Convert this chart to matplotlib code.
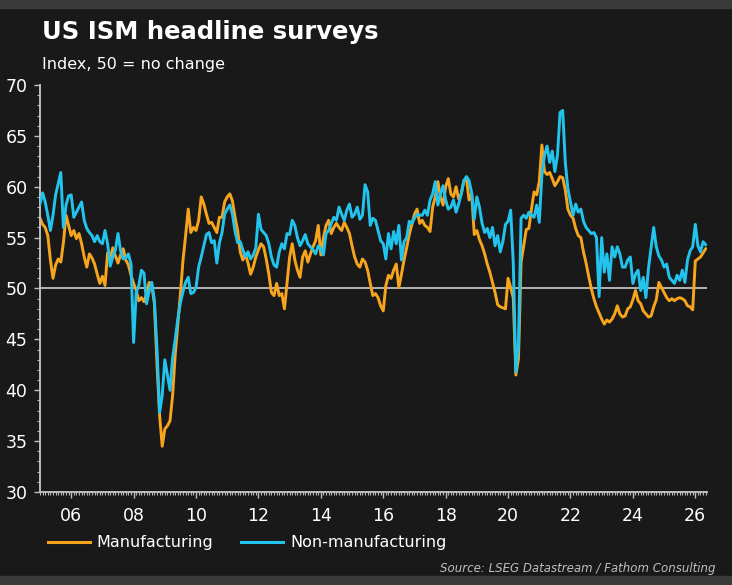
import numpy as np
import matplotlib
matplotlib.use("Agg")
import matplotlib.pyplot as plt
from matplotlib.lines import Line2D
from matplotlib.patches import Rectangle
from matplotlib.ticker import MultipleLocator

# ================= data (monthly, Jan 2005 onwards) =================
START_YEAR = 2005

manufacturing = [
    56.9, 56.3, 56.0, 55.2, 52.8, 51.0, 52.3, 52.9, 52.6, 54.5, 57.2, 56.2,  # 2005
    55.2, 55.7, 54.9, 55.4, 54.4, 53.1, 52.1, 53.4, 53.0, 52.4, 51.4, 50.5,  # 2006
    51.2, 50.3, 53.5, 53.0, 54.0, 53.2, 52.5, 53.3, 53.9, 52.8, 52.3, 51.3,  # 2007
    50.5, 49.8, 48.8, 49.1, 48.7, 49.5, 50.6, 50.3, 48.5, 42.5, 37.5, 34.5,  # 2008
    36.2, 36.5, 37.0, 39.5, 43.5, 46.5, 49.5, 52.8, 55.2, 57.8, 55.5, 56.0,  # 2009
    55.7, 56.7, 59.0, 58.3, 57.3, 56.4, 56.5, 56.0, 55.5, 57.0, 57.0, 58.5,  # 2010
    59.0, 59.3, 58.6, 57.0, 55.7, 53.6, 52.8, 53.4, 52.5, 51.4, 52.1, 53.1,  # 2011
    53.8, 54.4, 54.1, 52.9, 51.4, 49.6, 49.3, 50.5, 49.3, 49.5, 48.0, 50.6,  # 2012
    53.1, 54.4, 52.8, 51.8, 51.1, 53.1, 53.7, 52.6, 53.4, 54.1, 54.7, 56.2,  # 2013
    53.3, 55.0, 56.2, 56.7, 55.4, 56.0, 56.4, 56.0, 55.7, 56.5, 56.0, 55.4,  # 2014
    54.2, 53.1, 52.4, 52.1, 52.9, 52.6, 51.8, 50.5, 49.3, 49.5, 49.1, 48.3,  # 2015
    47.8, 50.3, 51.3, 51.0, 51.8, 52.4, 50.1, 51.4, 52.8, 54.0, 55.3, 56.3,  # 2016
    57.3, 57.8, 56.4, 56.7, 56.2, 56.0, 55.6, 58.0, 59.0, 60.5, 59.0, 58.2,  # 2017
    60.0, 60.8, 59.3, 59.0, 60.0, 58.8, 59.3, 60.6, 60.8, 58.7, 59.3, 55.3,  # 2018
    55.7, 54.8, 54.2, 53.4, 52.4, 51.6, 50.6, 49.6, 48.4, 48.2, 48.1, 48.0,  # 2019
    51.0, 50.1, 49.1, 41.5, 43.1, 52.6, 54.2, 55.8, 55.9, 57.8, 59.5, 59.2,  # 2020
    60.5, 64.1, 61.5, 61.2, 61.4, 60.8, 60.1, 60.5, 61.0, 60.9, 59.7, 57.8,  # 2021
    57.2, 56.9, 55.9, 55.2, 55.0, 53.6, 52.5, 51.2, 50.0, 49.0, 48.2, 47.6,  # 2022
    47.0, 46.5, 46.9, 46.7, 47.0, 47.5, 48.3, 47.5, 47.2, 47.3, 48.0, 48.2,  # 2023
    48.9, 49.8, 48.8, 48.5, 47.8, 47.5, 47.2, 47.3, 48.2, 48.9, 50.6, 50.1,  # 2024
    49.6, 49.1, 48.8, 49.0, 48.8, 49.0, 49.1, 49.0, 48.8, 48.3, 48.2, 47.9,  # 2025
    52.7, 52.9, 53.1, 53.5, 53.9,                                            # 2026
]

non_manufacturing = [
    58.3, 59.4, 58.5, 57.2, 55.7, 57.2, 59.2, 60.3, 61.4, 56.0, 58.2, 59.1,  # 2005
    59.2, 57.0, 57.5, 58.0, 58.5, 56.7, 55.9, 55.5, 55.2, 54.6, 55.2, 54.6,  # 2006
    54.4, 55.7, 54.4, 52.2, 53.1, 53.8, 55.4, 53.7, 52.9, 53.0, 53.4, 52.4,  # 2007
    44.7, 49.6, 50.3, 51.8, 51.5, 48.5, 49.8, 50.6, 48.8, 44.0, 37.8, 39.5,  # 2008
    43.0, 41.5, 40.0, 43.2, 45.0, 47.0, 48.6, 49.7, 50.6, 51.1, 49.5, 49.6,  # 2009
    50.1, 52.1, 53.1, 54.2, 55.3, 55.5, 54.5, 54.7, 52.5, 54.5, 55.5, 57.3,  # 2010
    57.8, 58.2, 57.3, 55.6, 54.5, 54.6, 53.8, 53.1, 53.6, 52.9, 53.3, 54.0,  # 2011
    57.3, 55.8, 55.5, 55.2, 54.4, 53.1, 52.3, 52.1, 53.6, 54.4, 53.9, 55.4,  # 2012
    55.3, 56.7, 56.2, 55.0, 54.2, 54.7, 55.3, 54.4, 54.1, 53.8, 53.4, 54.2,  # 2013
    53.9, 53.3, 55.4, 55.7, 56.4, 57.0, 56.7, 58.0, 57.3, 56.7, 57.7, 58.3,  # 2014
    57.0, 57.3, 58.0, 56.8, 57.2, 60.2, 59.5, 56.2, 56.9, 56.7, 55.7, 54.7,  # 2015
    54.4, 52.9, 55.4, 53.9, 55.6, 54.4, 56.2, 52.8, 54.6, 55.0, 56.6, 56.4,  # 2016
    56.9, 57.3, 57.2, 57.2, 57.7, 57.2, 58.7, 59.3, 60.5, 58.2, 59.3, 60.1,  # 2017
    58.7, 57.8, 58.0, 58.7, 57.5, 58.3, 59.3, 60.6, 61.0, 60.6, 59.4, 56.8,  # 2018
    59.0, 58.0, 56.4, 55.5, 55.9, 55.0, 56.0, 54.2, 55.2, 53.6, 54.6, 56.3,  # 2019
    56.6, 57.7, 52.5, 41.8, 44.5, 56.9, 57.2, 56.9, 57.5, 57.2, 57.0, 58.2,  # 2020
    56.5, 61.1, 63.1, 64.0, 62.4, 63.5, 61.5, 63.1, 67.3, 67.5, 62.4, 59.8,  # 2021
    58.5, 57.2, 58.3, 57.5, 57.8, 56.6, 56.0, 55.7, 55.4, 55.5, 55.0, 49.2,  # 2022
    55.0, 51.6, 53.4, 50.8, 54.1, 53.1, 54.1, 53.4, 52.1, 52.1, 52.8, 53.1,  # 2023
    50.5, 51.4, 51.8, 49.8, 51.1, 49.1, 52.0, 54.0, 56.0, 54.1, 53.2, 52.8,  # 2024
    52.1, 52.4, 51.1, 50.8, 50.5, 51.3, 50.8, 51.8, 50.6, 52.8, 53.7, 54.1,  # 2025
    56.3, 54.2, 53.6, 54.6, 54.3,                                            # 2026
]

year_ticks = list(range(2006, 2027, 2))
year_labels = ["06", "08", "10", "12", "14", "16", "18", "20", "22", "24", "26"]
y_ticks = [30, 35, 40, 45, 50, 55, 60, 65, 70]

# ================= style =================
BG = "#191919"
BAND = "#3a3a3a"
ORANGE = "#F7A51C"
BLUE = "#22C4EE"
AXIS = "#bdbdbd"

W, H = 732, 585
fig = plt.figure(figsize=(W / 100, H / 100), dpi=100, facecolor=BG)

# lighter strips at top and bottom of the picture
fig.patches.append(Rectangle((0, 1 - 8 / H), 1, 8 / H, transform=fig.transFigure,
                             color=BAND, zorder=0))
fig.patches.append(Rectangle((0, 0), 1, 9 / H, transform=fig.transFigure,
                             color=BAND, zorder=0))

ax = fig.add_axes([40 / W, 93 / H, 667 / W, 407 / H])
ax.set_facecolor(BG)

# month positions as decimal years
t = START_YEAR + np.arange(len(manufacturing)) / 12

ax.axhline(50, color="#c0c0c0", lw=1.3, zorder=1)
ax.plot(t, manufacturing, color=ORANGE, lw=2.1, zorder=2)
ax.plot(t, non_manufacturing, color=BLUE, lw=2.1, zorder=3)

ax.set_xlim(2005, 2026.375)
ax.set_ylim(30, 70)
ax.set_yticks(y_ticks)
ax.yaxis.set_minor_locator(MultipleLocator(1))
ax.set_xticks(year_ticks)
ax.set_xticklabels(year_labels)
ax.xaxis.set_minor_locator(MultipleLocator(1 / 12))

for side in ["top", "right"]:
    ax.spines[side].set_visible(False)
for side in ["left", "bottom"]:
    ax.spines[side].set_color(AXIS)
    ax.spines[side].set_linewidth(1.4)

ax.tick_params(which="major", colors=AXIS, labelcolor="white", labelsize=12.5,
               length=4, width=1)
ax.tick_params(which="minor", colors=AXIS, length=2, width=0.8)
ax.tick_params(axis="x", which="major", pad=7)
ax.tick_params(axis="y", which="major", pad=5)

# ================= texts =================
fig.text(42 / W, 1 - 38.5 / H, "US ISM headline surveys", fontsize=17.5,
         fontweight="bold", color="white", ha="left", va="baseline")
fig.text(42 / W, 1 - 68.5 / H, "Index, 50 = no change", fontsize=11.5,
         color="white", ha="left", va="baseline")

handles = [Line2D([], [], color=ORANGE, lw=2.2), Line2D([], [], color=BLUE, lw=2.2)]
fig.legend(handles, ["Manufacturing", "Non-manufacturing"], loc="center left",
           bbox_to_anchor=(48 / W, 1 - 543 / H), ncol=2, frameon=False,
           fontsize=11.5, handlelength=2.6, handletextpad=0.45, columnspacing=1.75,
           borderpad=0, borderaxespad=0, labelcolor="white")

fig.text(716 / W, 1 - 572 / H, "Source: LSEG Datastream / Fathom Consulting",
         fontsize=8.5, style="italic", color="#bfbfbf", ha="right", va="baseline")

fig.savefig("out.png", dpi=100, facecolor=BG)
